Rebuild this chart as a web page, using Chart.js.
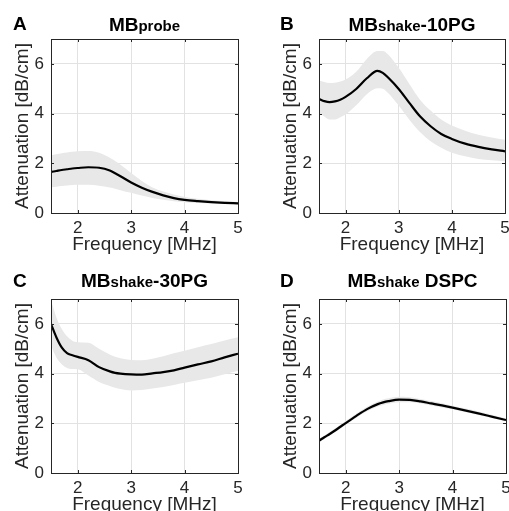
<!DOCTYPE html>
<html><head><meta charset="utf-8">
<script src="https://cdn.jsdelivr.net/npm/chart.js@4.4.0/dist/chart.umd.min.js"></script>
<style>
html,body{margin:0;padding:0;background:#fff;overflow:hidden;width:509px;height:511px;position:relative;}
.panel{position:absolute;}
.panel canvas{display:block;}
.txt{position:absolute;font-family:"Liberation Sans",Arial,Helvetica,sans-serif;font-weight:bold;color:#000;white-space:nowrap;font-size:19px;line-height:20px;}
.ttl{text-align:center;}
.sub{font-size:15px;}
</style></head><body>

<div class="panel" style="left:0;top:0"><canvas id="cA" width="254" height="258"></canvas></div>
<div class="panel" style="left:255px;top:0"><canvas id="cB" width="262" height="258"></canvas></div>
<div class="panel" style="left:0;top:255px"><canvas id="cC" width="254" height="262"></canvas></div>
<div class="panel" style="left:255px;top:255px"><canvas id="cD" width="262" height="262"></canvas></div>

<div class="txt" style="left:13px;top:14px">A</div>
<div class="txt" style="left:280px;top:14px">B</div>
<div class="txt" style="left:13px;top:271px">C</div>
<div class="txt" style="left:280px;top:271px">D</div>

<div class="txt ttl" style="left:51px;width:187px;top:15px">MB<span class="sub">probe</span></div>
<div class="txt ttl" style="left:319px;width:186px;top:15px">MB<span class="sub">shake</span>-10PG</div>
<div class="txt ttl" style="left:51px;width:187px;top:271px">MB<span class="sub">shake</span>-30PG</div>
<div class="txt ttl" style="left:319px;width:187px;top:271px">MB<span class="sub">shake</span> DSPC</div>

<script>
// ---- data ----
const freq   = [1.5, 1.6, 1.7, 1.8, 1.9, 2.0, 2.2, 2.4, 2.6, 2.7, 2.8, 3.0, 3.2, 3.4, 3.6, 3.8, 4.0, 4.25, 4.5, 4.75, 5.0];
const xTicks = [2, 3, 4, 5];
const yTicks = [0, 2, 4, 6];

const meanA  = [1.65, 1.69, 1.73, 1.76, 1.79, 1.81, 1.84, 1.82, 1.71, 1.60, 1.48, 1.23, 1.02, 0.85, 0.71, 0.60, 0.53, 0.48, 0.44, 0.41, 0.39];
const upperA = [2.31, 2.36, 2.40, 2.43, 2.46, 2.48, 2.49, 2.42, 2.22, 2.09, 1.94, 1.61, 1.29, 1.03, 0.86, 0.74, 0.64, 0.57, 0.51, 0.47, 0.44];
const lowerA = [1.03, 1.06, 1.09, 1.11, 1.13, 1.14, 1.14, 1.10, 1.03, 0.98, 0.92, 0.81, 0.70, 0.60, 0.53, 0.47, 0.43, 0.40, 0.38, 0.36, 0.34];

const meanB  = [4.59, 4.50, 4.46, 4.49, 4.56, 4.67, 4.99, 5.42, 5.72, 5.64, 5.45, 4.99, 4.43, 3.89, 3.49, 3.18, 2.98, 2.79, 2.66, 2.56, 2.48];
const upperB = [5.33, 5.27, 5.23, 5.24, 5.29, 5.37, 5.68, 6.20, 6.52, 6.52, 6.38, 5.84, 5.19, 4.56, 4.12, 3.76, 3.52, 3.31, 3.15, 3.04, 2.95];
const lowerB = [4.03, 3.88, 3.76, 3.76, 3.85, 3.96, 4.33, 4.78, 5.02, 5.00, 4.83, 4.32, 3.75, 3.26, 2.89, 2.62, 2.42, 2.28, 2.17, 2.12, 2.08];

const meanC  = [6.00, 5.46, 5.05, 4.82, 4.74, 4.67, 4.54, 4.26, 4.09, 4.03, 4.00, 3.97, 3.96, 4.01, 4.06, 4.13, 4.24, 4.37, 4.49, 4.65, 4.80];
const upperC = [6.95, 6.27, 5.80, 5.50, 5.32, 5.26, 5.24, 5.00, 4.77, 4.68, 4.62, 4.55, 4.54, 4.60, 4.70, 4.82, 4.92, 5.06, 5.19, 5.33, 5.46];
const lowerC = [5.12, 4.65, 4.38, 4.22, 4.18, 4.17, 3.92, 3.66, 3.50, 3.43, 3.38, 3.32, 3.34, 3.40, 3.46, 3.54, 3.63, 3.73, 3.83, 3.97, 4.11];

const meanD  = [1.30, 1.44, 1.57, 1.71, 1.86, 2.01, 2.30, 2.57, 2.77, 2.84, 2.89, 2.95, 2.94, 2.88, 2.80, 2.72, 2.63, 2.51, 2.39, 2.26, 2.13];
const upperD = [1.37, 1.51, 1.65, 1.79, 1.94, 2.09, 2.39, 2.67, 2.88, 2.96, 3.01, 3.07, 3.05, 2.98, 2.90, 2.81, 2.71, 2.59, 2.46, 2.33, 2.19];
const lowerD = [1.23, 1.37, 1.50, 1.64, 1.79, 1.94, 2.22, 2.48, 2.68, 2.74, 2.79, 2.85, 2.85, 2.80, 2.72, 2.64, 2.56, 2.44, 2.32, 2.20, 2.07];

// ---- styling ----
const FONT = '"Liberation Sans", Arial, Helvetica, sans-serif';
const AXIS_COLOR = '#262626';
const GRID_COLOR = '#e2e2e2';
const BAND_COLOR = '#e8e8e8';

const boxPlugin = {
  id: 'boxTicks',
  afterDatasetsDraw(chart) {
    const {ctx, chartArea: a, scales: {x, y}} = chart;
    ctx.save();
    ctx.strokeStyle = AXIS_COLOR;
    ctx.lineWidth = 1;
    ctx.beginPath();
    xTicks.forEach(v => {
      const px = Math.round(x.getPixelForValue(v)) + 0.5;
      ctx.moveTo(px, a.bottom); ctx.lineTo(px, a.bottom - 3);
      ctx.moveTo(px, a.top); ctx.lineTo(px, a.top + 3);
    });
    yTicks.forEach(v => {
      const py = Math.round(y.getPixelForValue(v)) + 0.5;
      ctx.moveTo(a.left, py); ctx.lineTo(a.left + 3, py);
      ctx.moveTo(a.right, py); ctx.lineTo(a.right - 3, py);
    });
    ctx.stroke();
    ctx.strokeRect(Math.round(a.left) + 0.5, Math.round(a.top) + 0.5,
                   Math.round(a.right - a.left), Math.round(a.bottom - a.top));
    ctx.restore();
  }
};

function pts(ys) { return freq.map((f, i) => ({x: f, y: ys[i]})); }

function makeChart(id, mean, upper, lower, pad) {
  new Chart(document.getElementById(id), {
    type: 'line',
    data: {
      datasets: [
        {data: pts(upper), order: 2, fill: '+1', backgroundColor: BAND_COLOR, borderColor: 'rgba(0,0,0,0)', borderWidth: 0, pointRadius: 0, cubicInterpolationMode: 'monotone'},
        {data: pts(lower), order: 2, fill: false, borderColor: 'rgba(0,0,0,0)', borderWidth: 0, pointRadius: 0, cubicInterpolationMode: 'monotone'},
        {data: pts(mean), order: 0, fill: false, borderColor: '#000', borderWidth: 2.2, pointRadius: 0, cubicInterpolationMode: 'monotone'}
      ]
    },
    options: {
      responsive: false,
      animation: false,
      events: [],
      layout: {padding: pad},
      plugins: {legend: {display: false}, tooltip: {enabled: false}},
      scales: {
        x: {
          type: 'linear', min: 1.5, max: 5,
          afterBuildTicks: s => { s.ticks = xTicks.map(v => ({value: v})); },
          afterFit: s => { s.height = 43; },
          grid: {color: GRID_COLOR, lineWidth: 1, drawTicks: false},
          border: {display: false},
          ticks: {padding: 5, color: AXIS_COLOR, font: {family: FONT, size: 17}, maxRotation: 0, autoSkip: false},
          title: {display: true, text: 'Frequency [MHz]', color: AXIS_COLOR, font: {family: FONT, size: 19}, padding: {top: 0, bottom: 0}}
        },
        y: {
          type: 'linear', min: 0, max: 7,
          afterBuildTicks: s => { s.ticks = yTicks.map(v => ({value: v})); },
          afterFit: s => { s.width = 51; },
          grid: {color: GRID_COLOR, lineWidth: 1, drawTicks: false},
          border: {display: false},
          ticks: {padding: 7, color: AXIS_COLOR, font: {family: FONT, size: 17}, autoSkip: false},
          title: {display: true, text: 'Attenuation [dB/cm]', color: AXIS_COLOR, font: {family: FONT, size: 19}, padding: {top: 11, bottom: 0}}
        }
      }
    },
    plugins: [boxPlugin]
  });
}

makeChart('cA', meanA, upperA, lowerA, {left: 0,  top: 39, right: 16, bottom: 2});
makeChart('cB', meanB, upperB, lowerB, {left: 13, top: 39, right: 12, bottom: 2});
makeChart('cC', meanC, upperC, lowerC, {left: 0,  top: 44, right: 16, bottom: 1});
makeChart('cD', meanD, upperD, lowerD, {left: 13, top: 44, right: 11, bottom: 1});
</script>
</body></html>
